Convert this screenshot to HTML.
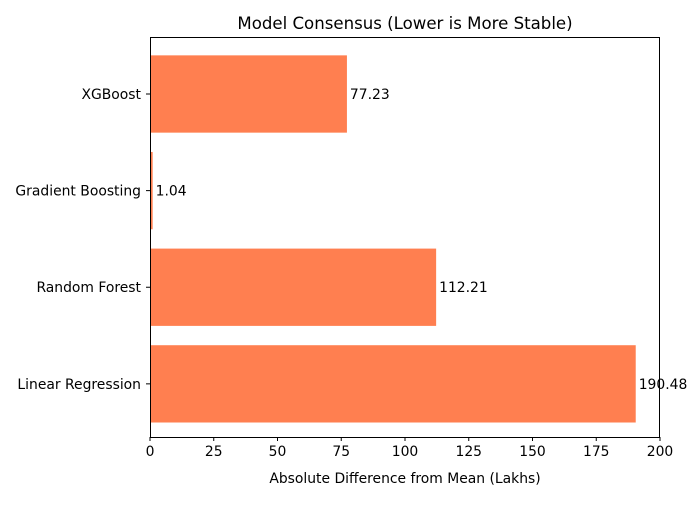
<!DOCTYPE html>
<html><head><meta charset="utf-8"><style>
body{margin:0;background:#fff;}
svg{font-family:"DejaVu Sans","Liberation Sans",sans-serif;}
</style></head><body>
<svg id="chart" width="700" height="500">
<rect width="700" height="500" fill="#fff"/>
<text x="405" y="29" font-size="16.6" text-anchor="middle">Model Consensus (Lower is More Stable)</text>
<text x="405" y="483" font-size="13.9" text-anchor="middle">Absolute Difference from Mean (Lakhs)</text>
<g id="bars"></g><g id="ticks"></g>
<rect x="150.5" y="37.5" width="509" height="400" fill="none" stroke="#000" stroke-width="1"/>
</svg>
<script>
const categories=["Linear Regression","Random Forest","Gradient Boosting","XGBoost"];
const values=[190.48,112.21,1.04,77.23];
const valueLabels=["190.48","112.21","1.04","77.23"];
const xTicks=[0,25,50,75,100,125,150,175,200];
const L=150,R=660,T=37,B=437;
const x=v=>L+(v/200)*(R-L);
const y=i=>B-(i+0.55)/(4.14)*(B-T);
const ns="http://www.w3.org/2000/svg";
const bars=document.getElementById('bars'),ticks=document.getElementById('ticks');
const bh=0.8*(B-T)/4.14;
function mk(tag,attrs,parent){const e=document.createElementNS(ns,tag);for(const k in attrs)e.setAttribute(k,attrs[k]);parent.appendChild(e);return e;}
categories.forEach((c,i)=>{
 const r=mk('rect',{x:x(0),y:y(i)-bh/2,width:x(values[i])-x(0),height:bh,fill:'#ff7f50'},bars);
 
 
 const t=mk('text',{x:x(values[i])+3,y:y(i)+5,'font-size':13.9},bars);t.textContent=valueLabels[i];
 
 
 const tl=mk('line',{x1:L-4,x2:L,y1:y(i),y2:y(i),stroke:'#000'},ticks);
 
 
 const lb=mk('text',{x:L-9,y:y(i)+5,'font-size':13.9,'text-anchor':'end'},ticks);lb.textContent=c;
 
 
});
xTicks.forEach(v=>{
 const tl=mk('line',{x1:x(v),x2:x(v),y1:B,y2:B+4,stroke:'#000'},ticks);
 
 
 const lb=mk('text',{x:x(v),y:B+19,'font-size':13.9,'text-anchor':'middle'},ticks);lb.textContent=v;
 
 
});
</script>
</body></html>
